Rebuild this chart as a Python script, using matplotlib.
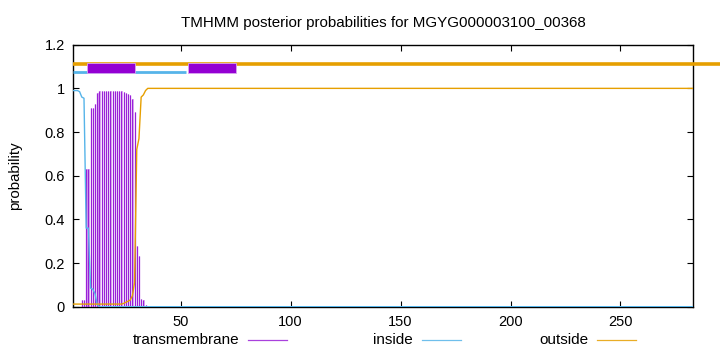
import matplotlib
matplotlib.use('Agg')
import matplotlib.pyplot as plt
from matplotlib.lines import Line2D
from matplotlib.patches import Rectangle

plt.rcParams['font.family'] = ['Liberation Sans', 'DejaVu Sans']
plt.rcParams['font.size'] = 10

title = 'TMHMM posterior probabilities for MGYG000003100_00368'
seq_len = 283

# transmembrane posterior, residues 5..34 (zero elsewhere)
tm_start = 5
tm_prob = [0.03, 0.03, 0.63, 0.63, 0.91, 0.91, 0.93, 0.98, 0.99, 0.99,
           0.99, 0.99, 0.99, 0.99, 0.99, 0.99, 0.99, 0.99, 0.99, 0.985,
           0.98, 0.975, 0.97, 0.95, 0.89, 0.28, 0.23, 0.034, 0.03, 0.01]

# inside posterior (breakpoints)
inside_x = [1, 2, 3, 4, 5, 6, 7, 8, 9, 10, 11, 12, 13, 283]
inside_y = [0.99, 0.99, 0.99, 0.985, 0.96, 0.955, 0.36, 0.36, 0.085, 0.08,
            0.06, 0.01, 0.0, 0.0]

# outside posterior (breakpoints)
outside_x = [1, 23, 24, 25, 26, 27, 28, 29, 30, 31, 32, 33, 34, 35, 283]
outside_y = [0.012, 0.012, 0.015, 0.02, 0.025, 0.03, 0.05, 0.11, 0.72, 0.77,
             0.96, 0.97, 0.99, 1.0, 1.0]

# predicted topology strips at the top
outside_strip = (1, 296)
inside_strip = (1, 52.4)
tm_segments = [(7.2, 29.2), (53.2, 75.1)]

c_tm = '#9a20d8'
c_tm_fill = '#dfb3f2'
c_box = '#9400d3'
c_in = '#56b4e9'
c_out = '#e69f00'

fig = plt.figure(figsize=(7.2, 3.52), dpi=100)
ax = fig.add_axes([73 / 720, 1 - 306.7 / 352, 620 / 720, 262 / 352])

tm_x = [tm_start + i for i in range(len(tm_prob))]
ax.bar(tm_x, tm_prob, width=0.6, align='edge', color=c_tm_fill, linewidth=0, zorder=2)
ax.vlines(tm_x, 0, tm_prob, color=c_tm, lw=0.9, zorder=3)

ax.plot(inside_x, inside_y, color=c_in, lw=1.0, zorder=4)
ax.plot(outside_x, outside_y, color=c_out, lw=1.0, zorder=4)

ax.plot(outside_strip, [1.113, 1.113], color=c_out, lw=2.6, clip_on=False,
        solid_capstyle='butt', zorder=5)
ax.plot(inside_strip, [1.074, 1.074], color=c_in, lw=2.0,
        solid_capstyle='butt', zorder=5)
for a, b in tm_segments:
    ax.add_patch(Rectangle((a, 1.069), b - a, 0.049, facecolor=c_box,
                           edgecolor='#d9a6f0', lw=0.6, zorder=6))

ax.set_xlim(1, seq_len)
ax.set_ylim(0, 1.2)
ax.set_xticks([50, 100, 150, 200, 250])
ax.set_yticks([0, 0.2, 0.4, 0.6, 0.8, 1.0, 1.2])
ax.set_yticklabels(['0', '0.2', '0.4', '0.6', '0.8', '1', '1.2'])
ax.tick_params(direction='in', top=True, right=True, length=4, width=0.8,
               labelsize=10.5, pad=6)
for s in ax.spines.values():
    s.set_linewidth(1.0)
ax.set_ylabel('probability', fontsize=10.8)
ax.yaxis.set_label_coords(-0.082, 0.5)
ax.set_title(title, fontsize=10.9, pad=13)

# legend, gnuplot style along the bottom
legend_items = [('transmembrane', c_tm), ('inside', c_in), ('outside', c_out)]
text_right = [239, 413, 588]
for (lab, col), xr in zip(legend_items, text_right):
    y = 1 - 340 / 352
    fig.text(xr / 720, y, lab, ha='right', va='center', fontsize=11)
    fig.add_artist(Line2D([(xr + 9) / 720, (xr + 48) / 720], [y, y],
                          color=col, lw=0.9, alpha=0.85,
                          transform=fig.transFigure))

fig.savefig('out.png', dpi=100)
